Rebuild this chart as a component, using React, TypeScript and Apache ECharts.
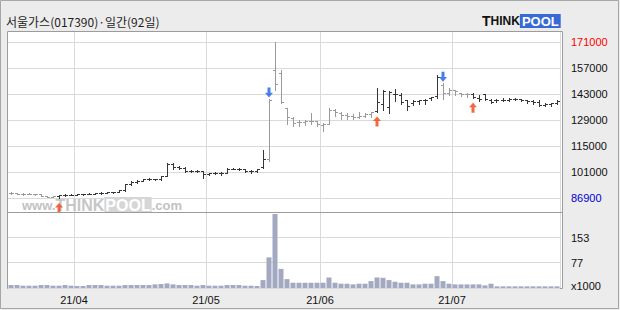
import React, { useEffect, useRef } from "react";
import * as echarts from "echarts";

const chartTitle = "서울가스(017390)·일간(92일)";

const dates = [
  "21/03/17", "21/03/18", "21/03/19", "21/03/22", "21/03/23", "21/03/24", "21/03/25", "21/03/26", "21/03/29", "21/03/30", "21/03/31",
  "21/04/01", "21/04/02", "21/04/05", "21/04/06", "21/04/07", "21/04/08", "21/04/09", "21/04/12", "21/04/13", "21/04/14", "21/04/15",
  "21/04/16", "21/04/19", "21/04/20", "21/04/21", "21/04/22", "21/04/23", "21/04/26", "21/04/27", "21/04/28", "21/04/29", "21/04/30",
  "21/05/03", "21/05/04", "21/05/06", "21/05/07", "21/05/10", "21/05/11", "21/05/12", "21/05/13", "21/05/14", "21/05/17", "21/05/18",
  "21/05/20", "21/05/21", "21/05/24", "21/05/25", "21/05/26", "21/05/27", "21/05/28", "21/05/31",
  "21/06/01", "21/06/02", "21/06/03", "21/06/04", "21/06/07", "21/06/08", "21/06/09", "21/06/10", "21/06/11", "21/06/14", "21/06/15",
  "21/06/16", "21/06/17", "21/06/18", "21/06/21", "21/06/22", "21/06/23", "21/06/24", "21/06/25", "21/06/28", "21/06/29", "21/06/30",
  "21/07/01", "21/07/02", "21/07/05", "21/07/06", "21/07/07", "21/07/08", "21/07/09", "21/07/12", "21/07/13", "21/07/14", "21/07/15",
  "21/07/16", "21/07/19", "21/07/20", "21/07/21", "21/07/22", "21/07/23", "21/07/26",
];

const opens = [
  89500, 89500, 89200, 89000, 89200, 88800, 88100, 87700, 87900, 88400, 88600,
  88600, 89000, 89000, 89300, 89500, 89700, 89900, 90100, 91000, 94400, 95500,
  96200, 97000, 97000, 97100, 98800, 105000, 103500, 103000, 101500, 101700, 101200,
  99800, 100300, 100300, 100600, 102800, 102800, 102500, 101200, 101200, 103500, 107800,
  156000, 154500, 135500, 130000, 128000, 128000, 128500, 128500,
  126500, 127000, 134500, 132500, 131500, 131000, 130500, 131000, 132000, 134000, 137500,
  136000, 143000, 142500, 139500, 138000, 139000, 139500, 141000, 142000, 148000, 143500,
  145000, 143500, 143000, 143000, 141000, 143000, 140000, 139500, 140000, 140000, 140500,
  140500, 139500, 139000, 138500, 137000, 137500, 138000,
];
const closes = [
  89500, 89200, 89000, 89200, 88800, 88100, 87700, 87900, 88400, 88600, 88600,
  89000, 89000, 89300, 89500, 89700, 89900, 90100, 91000, 94400, 95500, 96200,
  97000, 97000, 97100, 98800, 105000, 103500, 103000, 101500, 101700, 101200, 99800,
  100300, 100300, 100600, 102800, 102800, 102500, 101200, 101200, 102400, 107800, 140000,
  148500, 138500, 130500, 127500, 128000, 128500, 128500, 127000,
  127000, 134500, 133000, 131500, 131000, 130500, 131000, 132000, 133000, 138500, 144500,
  144000, 143000, 138500, 136500, 139000, 139500, 140000, 141500, 152000, 143500, 145000,
  144500, 143000, 143000, 141500, 140500, 140500, 138500, 140000, 140000, 140500, 140500,
  139500, 139000, 138500, 137000, 137500, 138000, 139000,
];
const lows = [
  89000, 88800, 88700, 88800, 88500, 87800, 87400, 87300, 86900, 88200, 88300,
  88400, 88700, 88800, 89100, 89300, 89500, 89700, 89900, 90800, 94000, 95000,
  95800, 96500, 96500, 96800, 98500, 102500, 102500, 101000, 101000, 100800, 97700,
  99500, 99800, 99500, 100500, 102300, 102000, 100800, 100500, 101000, 103000, 107000,
  145000, 138000, 127000, 125500, 125500, 126000, 127000, 125800,
  123000, 127000, 131000, 129500, 129500, 129500, 130000, 130500, 130500, 133500, 134500,
  132500, 139000, 137500, 134500, 137000, 137500, 137500, 140000, 141000, 140500, 142500,
  142500, 142000, 141500, 141000, 139000, 140000, 138000, 138500, 139000, 139000, 139500,
  139000, 138000, 137500, 136500, 136500, 136500, 137500,
];
const highs = [
  90000, 89800, 89500, 89600, 89300, 88900, 88200, 88100, 88600, 88900, 88900,
  89200, 89300, 89500, 89800, 89900, 90100, 90300, 91200, 94600, 96000, 96500,
  97300, 97500, 97300, 99000, 106000, 105500, 104000, 103500, 102000, 102000, 101500,
  100500, 100800, 100800, 103200, 103300, 103000, 102800, 101800, 102800, 113000, 140500,
  171000, 156000, 135500, 130500, 129000, 129000, 132500, 128500,
  127500, 135500, 135000, 133000, 132500, 132000, 133500, 132500, 133500, 146000, 145000,
  144500, 145500, 143500, 140000, 140000, 140000, 140500, 141500, 153000, 149000, 146000,
  145000, 143700, 143700, 143500, 142500, 143000, 140500, 140500, 141000, 141000, 141000,
  140500, 140000, 139500, 139500, 138000, 138000, 139500,
];
// volume, in thousands of shares
const volumes = [
  9, 9, 7, 7, 7, 9, 9, 7, 7, 9, 7,
  6, 6, 9, 9, 9, 7, 7, 7, 9, 9, 9,
  9, 9, 11, 12, 14, 11, 9, 9, 9, 7, 9,
  7, 7, 7, 9, 9, 9, 7, 7, 6, 24, 93,
  225, 58, 27, 16, 16, 16, 16, 16,
  16, 32, 16, 13, 13, 11, 13, 13, 21, 32, 31,
  24, 19, 16, 16, 11, 11, 13, 13, 36, 21, 13,
  11, 11, 11, 11, 11, 8, 13, 5, 5, 5, 5,
  5, 5, 5, 5, 5, 5, 5,
];
const buySignals = [8, 61, 77];
const sellSignals = [43, 72];
const priceTicks = [86900, 101000, 115000, 129000, 143000, 157000, 171000];
const volumeTicks = [0, 77, 153];

const maxHigh = Math.max(...highs);
const minLow = Math.min(...lows);

const isMonthStart = (i: number) => i > 0 && dates[i].slice(3, 5) !== dates[i - 1].slice(3, 5);

const darkBar = dates.map((_, i) => {
  let lb = -1;
  let ls = -1;
  buySignals.forEach((b) => { if (b <= i && b > lb) lb = b; });
  sellSignals.forEach((s) => { if (s <= i && s > ls) ls = s; });
  return lb > ls;
});

const UP_ARROW = "path://M4,0 L8,4.5 L5.5,4.5 L5.5,10 L2.5,10 L2.5,4.5 L0,4.5 Z";
const DOWN_ARROW = "path://M2.5,0 L5.5,0 L5.5,5 L8,5 L4,9.5 L0,5 L2.5,5 Z";

export default function App() {
  const ref = useRef<HTMLDivElement>(null);
  useEffect(() => {
    if (!ref.current) return;
    const chart = echarts.init(ref.current, undefined, { renderer: "svg" });
    const gridColor = "#dadada";
    const font = "'Liberation Sans', Arial, sans-serif";
    const ohlc = dates.map((_, i) => [i, opens[i], closes[i], lows[i], highs[i]]);
    const option: any = {
      animation: false,
      backgroundColor: "#ececec",
      title: {
        text: chartTitle,
        left: 6,
        top: 15,
        padding: 0,
        textStyle: { fontSize: 12, fontWeight: "normal", color: "#1e1e1e", fontFamily: "'Noto Sans CJK KR', sans-serif" },
      },
      grid: [
        { left: 8, top: 32, width: 552, height: 180 },
        { left: 8, top: 212, width: 552, height: 76 },
      ],
      xAxis: [
        {
          type: "category", gridIndex: 0, data: dates, boundaryGap: true,
          axisLine: { show: false }, axisTick: { show: false }, axisLabel: { show: false },
          splitLine: { show: true, interval: (i: number) => isMonthStart(i), lineStyle: { color: gridColor } },
        },
        {
          type: "category", gridIndex: 1, data: dates, boundaryGap: true,
          axisLine: { show: false }, axisTick: { show: false },
          axisLabel: {
            show: true, interval: (i: number) => isMonthStart(i), formatter: (v: string) => v.slice(0, 5),
            margin: 6, fontSize: 11, color: "#111", fontFamily: font, padding: [0, 6, 0, 0],
          },
          splitLine: { show: true, interval: (i: number) => isMonthStart(i), lineStyle: { color: gridColor } },
        },
      ],
      yAxis: [
        {
          type: "value", gridIndex: 0, position: "right", min: 79353, max: 176390,
          axisLine: { show: false },
          axisTick: { show: false, customValues: priceTicks },
          axisLabel: {
            customValues: priceTicks, formatter: (v: number) => String(v), fontSize: 11, fontFamily: font, margin: 11,
            color: (v: any) => (Number(v) === maxHigh ? "#ff0000" : Number(v) === minLow ? "#0000cc" : "#111"),
          },
          splitLine: { show: true, lineStyle: { color: gridColor } },
        },
        {
          type: "value", gridIndex: 1, position: "right", min: 0, max: 231,
          axisLine: { show: false },
          axisTick: { show: false, customValues: volumeTicks },
          axisLabel: {
            customValues: volumeTicks,
            formatter: (v: number) => (Number(v) === 0 ? "{u|x1000}" : String(v)),
            rich: { u: { fontSize: 11, fontFamily: font, color: "#111", padding: [0, 0, 4, 0] } },
            fontSize: 11, fontFamily: font, margin: 11, color: "#111",
          },
          splitLine: { show: true, lineStyle: { color: gridColor } },
        },
      ],
      series: [
        {
          type: "custom", xAxisIndex: 0, yAxisIndex: 0, data: ohlc, z: 3,
          encode: { x: 0, y: [1, 2, 3, 4] },
          renderItem: (params: any, api: any) => {
            const i = api.value(0);
            const o = api.coord([i, api.value(1)]);
            const c = api.coord([i, api.value(2)]);
            const l = api.coord([i, api.value(3)]);
            const h = api.coord([i, api.value(4)]);
            const x = Math.floor(o[0]) + 0.5;
            const color = darkBar[i] ? "#363636" : "#9a9a9a";
            const yh = Math.round(h[1]);
            const yl = Math.round(l[1]);
            const yo = Math.round(o[1]) + 0.5;
            const yc = Math.round(c[1]) + 0.5;
            const st = { stroke: color, lineWidth: 1 };
            return {
              type: "group",
              children: [
                { type: "line", shape: { x1: x, y1: yh, x2: x, y2: Math.max(yl, yh) + 1 }, style: st },
                { type: "line", shape: { x1: x - 2.5, y1: yo, x2: x - 0.5, y2: yo }, style: st },
                { type: "line", shape: { x1: x + 0.5, y1: yc, x2: x + 2.5, y2: yc }, style: st },
              ],
            };
          },
        },
        {
          type: "scatter", xAxisIndex: 0, yAxisIndex: 0, z: 4,
          data: buySignals.map((i) => [i, lows[i]]),
          symbol: UP_ARROW, symbolSize: [8, 10], symbolOffset: [0, 10],
          itemStyle: { color: "#f04414" },
        },
        {
          type: "scatter", xAxisIndex: 0, yAxisIndex: 0, z: 4,
          data: sellSignals.map((i) => [i, highs[i]]),
          symbol: DOWN_ARROW, symbolSize: [8, 10], symbolOffset: [0, -6],
          itemStyle: { color: "#1a5fe6" },
        },
        {
          type: "bar", xAxisIndex: 1, yAxisIndex: 1, data: volumes, barWidth: 5,
          itemStyle: { color: "#a2a9c1" },
        },
      ],
      graphic: [
        { type: "rect", z: -2, shape: { x: 0.5, y: 0.5, width: 618, height: 308 }, style: { fill: "none", stroke: "#a6a6a6", lineWidth: 1 } },
        { type: "rect", z: -1, shape: { x: 7.5, y: 31.5, width: 555, height: 257 }, style: { fill: "#ffffff", stroke: "#9c9c9c", lineWidth: 1 } },
        { type: "line", z: 5, shape: { x1: 7.5, y1: 212.5, x2: 562.5, y2: 212.5 }, style: { stroke: "#9c9c9c", lineWidth: 1 } },
        {
          type: "text", z: 1, x: 22, y: 205,
          style: {
            text: "{a|www.}{b|THINK}{c|POOL}{d|.com}",
            verticalAlign: "middle",
            rich: {
              a: { fontSize: 13, fill: "#c2c2c2", fontFamily: font, fontWeight: "bold" },
              b: { fontSize: 16, fill: "#c6c6c6", fontFamily: font, fontWeight: "bold" },
              c: { fontSize: 16, fill: "#ffffff", fontFamily: font, fontWeight: "bold", backgroundColor: "#d6d6d6", padding: [0, 1, 0, 1] },
              d: { fontSize: 13, fill: "#c2c2c2", fontFamily: font, fontWeight: "bold" },
            },
          },
        },
        {
          type: "text", z: 5, x: 482, y: 21,
          style: {
            text: "{t|T}{h|HINK}{p|POOL}",
            verticalAlign: "middle",
            rich: {
              t: { fontSize: 14, fill: "#111", fontFamily: font, fontWeight: "bold" },
              h: { fontSize: 12, fill: "#111", fontFamily: font, fontWeight: "bold" },
              p: { fontSize: 13, fill: "#ffffff", fontFamily: font, fontWeight: "bold", backgroundColor: "#386ad6", padding: [1, 2, 0, 2] },
            },
          },
        },
      ],
    };
    chart.setOption(option);
    return () => chart.dispose();
  }, []);
  return <div ref={ref} style={{ position: "absolute", left: 0, top: 0, width: 620, height: 310 }} />;
}
